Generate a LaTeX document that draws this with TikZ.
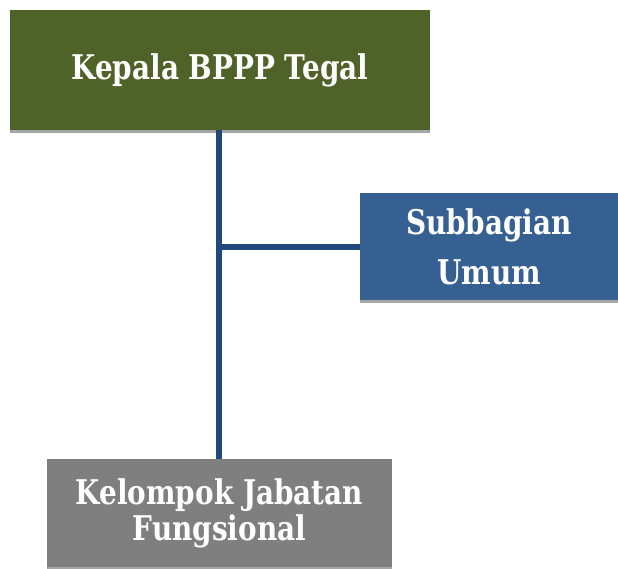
\documentclass[tikz,border=0pt]{standalone}
\usepackage{fontspec}
\setmainfont{DejaVu Serif}
\newfontfamily\boxfont{DejaVu Serif}[FakeStretch=0.82]
\usetikzlibrary{shadows}
\definecolor{olivebox}{HTML}{4F6228}
\definecolor{bluebox}{HTML}{366092}
\definecolor{graybox}{HTML}{7F7F7F}
\definecolor{linecol}{HTML}{1F497D}
\begin{document}
\begin{tikzpicture}[x=1pt,y=-1pt,
  orgbox/.style={rectangle, inner sep=0pt, text=white, align=center,
    drop shadow={shadow xshift=0pt, shadow yshift=-3pt, fill=black!35, opacity=1}},
  conn/.style={draw=linecol, line width=6pt}]
\useasboundingbox (0,0) rectangle (618,568);
\node[orgbox, fill=olivebox, minimum width=420pt, minimum height=120pt,
  font=\boxfont\bfseries\fontsize{34}{40}\selectfont] (top) at (220,70) {Kepala BPPP Tegal};
\node[orgbox, fill=bluebox, minimum width=258pt, minimum height=107pt,
  font=\boxfont\bfseries\fontsize{34}{50}\selectfont] (sub) at (489,246.5) {Subbagian\\Umum};
\node[orgbox, fill=graybox, minimum width=345pt, minimum height=108pt,
  font=\boxfont\bfseries\fontsize{34}{36}\selectfont] (bot) at (219.5,513) {Kelompok Jabatan\\Fungsional};
\coordinate (j) at (219,246.5);
\coordinate (t) at (219,130);
\coordinate (b) at (219,459);
\draw[conn] (t) -- (b);
\draw[conn] (j) -- (sub.west);
\end{tikzpicture}
\end{document}
